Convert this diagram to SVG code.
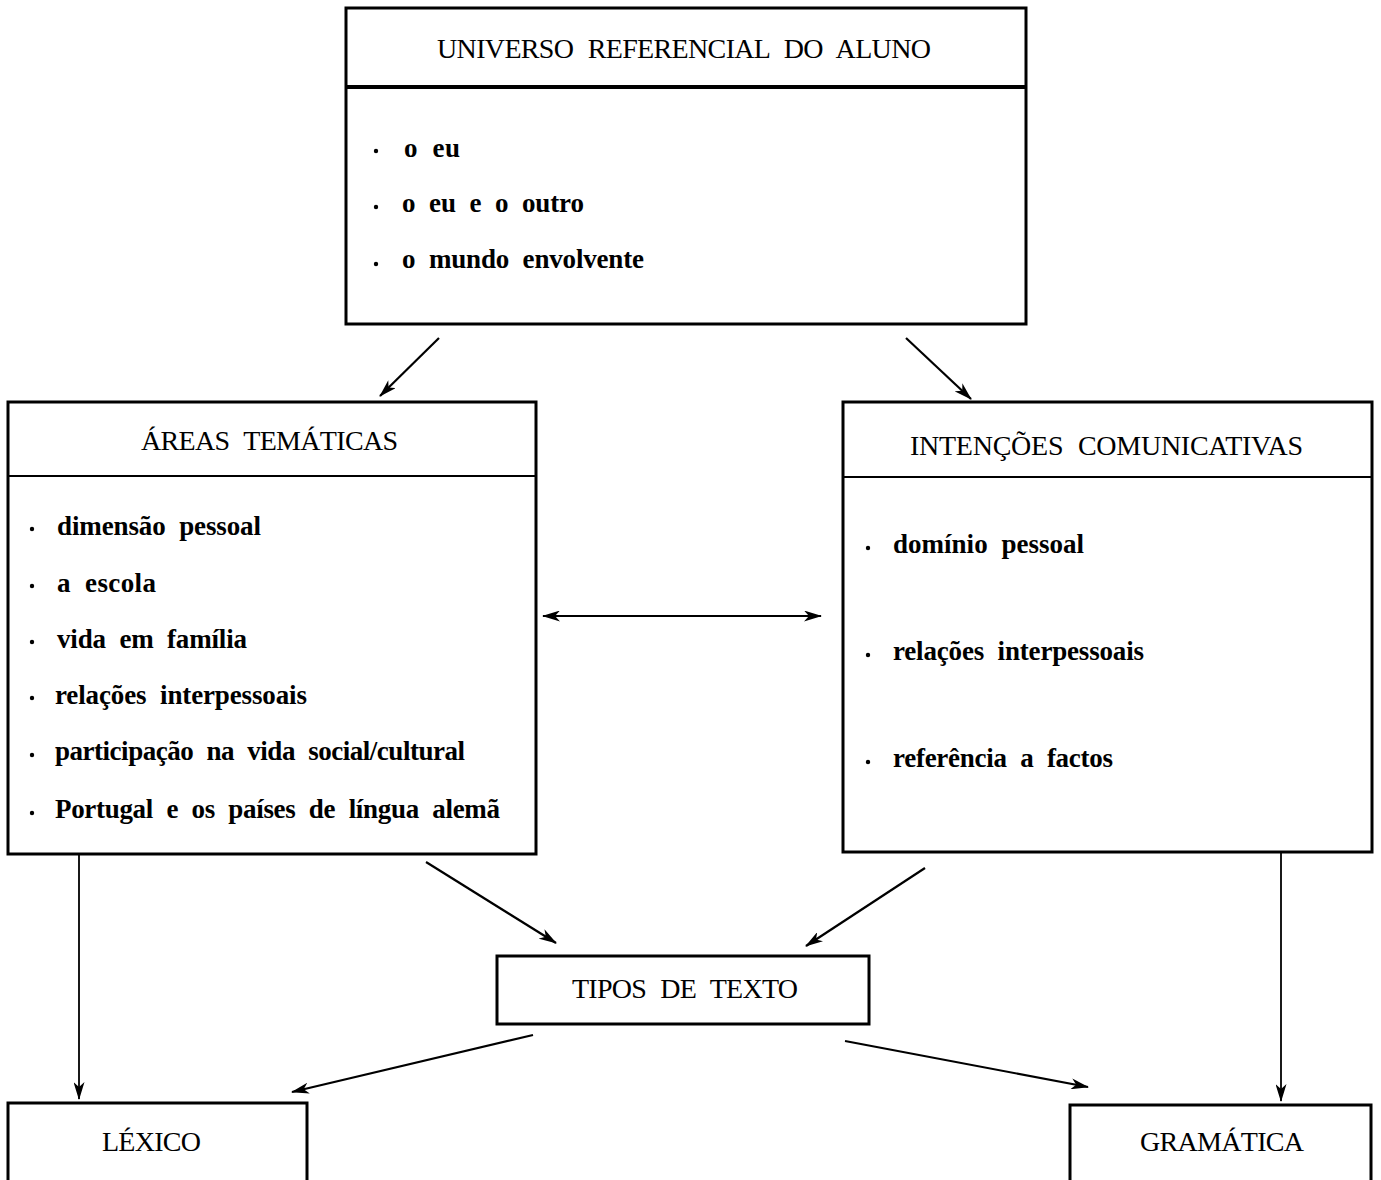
<svg xmlns="http://www.w3.org/2000/svg" width="1381" height="1180" viewBox="0 0 1381 1180">
<defs>
<style>
.box{fill:#fff;stroke:#000;stroke-width:3}
.div{stroke:#000;stroke-width:2}
.t{font-family:"Liberation Serif","Times New Roman",serif;font-size:28px;fill:#000;word-spacing:8px}
.i{font-family:"Liberation Serif","Times New Roman",serif;font-size:27px;font-weight:bold;fill:#000;word-spacing:7px}
.c{stroke:#000;stroke-width:2.2;fill:none}
.v{stroke:#000;stroke-width:1.8;fill:none}
.b{fill:#000}
</style>
<marker id="ah" viewBox="0 0 18 11" refX="17" refY="5.5" markerWidth="18" markerHeight="11" markerUnits="userSpaceOnUse" orient="auto-start-reverse">
<path d="M0,0 L18,5.5 L0,11 L5,5.5 Z" fill="#000"/>
</marker>
</defs>

<g id="universo">
<rect class="box" x="346" y="8" width="680" height="316"/>
<line x1="346" y1="87" x2="1026" y2="87" stroke="#000" stroke-width="4"/>
<text class="t" x="437" y="58" textLength="494" lengthAdjust="spacing">UNIVERSO REFERENCIAL DO ALUNO</text>
<circle class="b" cx="376" cy="151" r="2.2"/>
<text class="i" x="404" y="157" textLength="56" lengthAdjust="spacing">o eu</text>
<circle class="b" cx="376" cy="207" r="2.2"/>
<text class="i" x="402" y="212" textLength="182" lengthAdjust="spacing">o eu e o outro</text>
<circle class="b" cx="376" cy="264" r="2.2"/>
<text class="i" x="402" y="268" textLength="242" lengthAdjust="spacing">o mundo envolvente</text>
</g>

<g id="areas">
<rect class="box" x="8" y="402" width="528" height="452"/>
<line class="div" x1="8" y1="476" x2="536" y2="476"/>
<text class="t" x="141" y="450" textLength="257" lengthAdjust="spacing">ÁREAS TEMÁTICAS</text>
<circle class="b" cx="32" cy="529" r="2.2"/>
<text class="i" x="57" y="535" textLength="204" lengthAdjust="spacing">dimensão pessoal</text>
<circle class="b" cx="32" cy="586" r="2.2"/>
<text class="i" x="57" y="592" textLength="99" lengthAdjust="spacing">a escola</text>
<circle class="b" cx="32" cy="642" r="2.2"/>
<text class="i" x="57" y="648" textLength="190" lengthAdjust="spacing">vida em família</text>
<circle class="b" cx="32" cy="698" r="2.2"/>
<text class="i" x="55" y="704" textLength="252" lengthAdjust="spacing">relações interpessoais</text>
<circle class="b" cx="32" cy="755" r="2.2"/>
<text class="i" x="55" y="760" textLength="410" lengthAdjust="spacing">participação na vida social/cultural</text>
<circle class="b" cx="32" cy="813" r="2.2"/>
<text class="i" x="55" y="818" textLength="445" lengthAdjust="spacing">Portugal e os países de língua alemã</text>
</g>

<g id="intencoes">
<rect class="box" x="843" y="402" width="529" height="450"/>
<line class="div" x1="843" y1="477" x2="1372" y2="477"/>
<text class="t" x="910" y="455" textLength="393" lengthAdjust="spacing">INTENÇÕES COMUNICATIVAS</text>
<circle class="b" cx="868" cy="548" r="2.2"/>
<text class="i" x="893" y="553" textLength="191" lengthAdjust="spacing">domínio pessoal</text>
<circle class="b" cx="868" cy="655" r="2.2"/>
<text class="i" x="893" y="660" textLength="251" lengthAdjust="spacing">relações interpessoais</text>
<circle class="b" cx="868" cy="762" r="2.2"/>
<text class="i" x="893" y="767" textLength="220" lengthAdjust="spacing">referência a factos</text>
</g>

<g id="tipos">
<rect class="box" x="497" y="956" width="372" height="68"/>
<text class="t" x="572" y="998" textLength="226" lengthAdjust="spacing">TIPOS DE TEXTO</text>
</g>

<g id="lexico">
<rect class="box" x="8" y="1103" width="299" height="100"/>
<text class="t" x="102" y="1151" textLength="99" lengthAdjust="spacing">LÉXICO</text>
</g>

<g id="gramatica">
<rect class="box" x="1070" y="1105" width="301" height="100"/>
<text class="t" x="1140" y="1151" textLength="164" lengthAdjust="spacing">GRAMÁTICA</text>
</g>

<g id="connectors">
<line class="c" x1="439" y1="338" x2="380" y2="396" marker-end="url(#ah)"/>
<line class="c" x1="906" y1="338" x2="971" y2="399" marker-end="url(#ah)"/>
<line class="c" x1="543" y1="616" x2="821" y2="616" marker-start="url(#ah)" marker-end="url(#ah)"/>
<line class="c" x1="426" y1="862" x2="556" y2="943" marker-end="url(#ah)"/>
<line class="c" x1="925" y1="868" x2="806" y2="946" marker-end="url(#ah)"/>
<line class="v" x1="79" y1="855" x2="79" y2="1099" marker-end="url(#ah)"/>
<line class="v" x1="1281" y1="853" x2="1281" y2="1101" marker-end="url(#ah)"/>
<line class="c" x1="533" y1="1035" x2="292" y2="1092" marker-end="url(#ah)"/>
<line class="c" x1="845" y1="1041" x2="1088" y2="1087" marker-end="url(#ah)"/>
</g>
</svg>
